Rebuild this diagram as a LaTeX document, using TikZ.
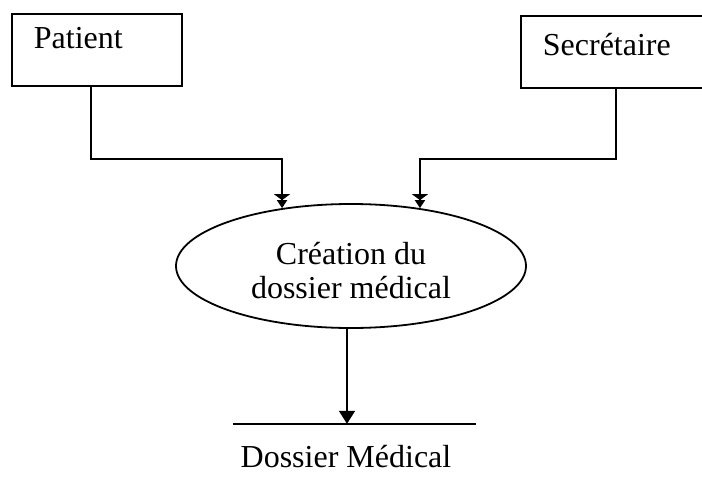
\documentclass[tikz,border=0pt]{standalone}
\usepackage{fontspec}
\setmainfont{Liberation Serif}
\usetikzlibrary{shapes.geometric,arrows.meta}

\tikzset{
  every node/.style={font=\fontsize{32}{34}\selectfont},
  lw/.style={line width=1.8pt},
  entity/.style={lw, draw, rectangle, inner xsep=22pt, inner ysep=0pt, align=left},
  process/.style={lw, draw, ellipse, minimum width=350pt, minimum height=124pt,
                  inner sep=0pt, align=center},
  inflow/.style={lw, -{Triangle[width=16pt,length=6pt] Triangle[width=10pt,length=8pt]}},
  outflow/.style={lw, -{Triangle[width=16pt,length=13pt]}}
}

\begin{document}
\begin{tikzpicture}[x=1pt, y=-1pt]
  \useasboundingbox (0,0) rectangle (702,490);
  \clip (0,0) rectangle (702,490);

  % external entities
  \node[entity, text width=126pt, text height=35pt, text depth=37pt,
        anchor=north west] (patient) at (11,13) {Patient};
  \node[entity, text width=156pt, text height=40pt, text depth=32pt,
        anchor=north west] (secr) at (520,15) {Secrétaire};

  % process
  \node[process] (proc) at (351,266) {};
  \node[align=center] (proctext) at (351,271) {Création du\\dossier médical};

  % data store
  \node[minimum width=243pt, minimum height=0pt, inner sep=0pt] (store) at (354.5,424) {};
  \draw[lw] (store.west) -- (store.east);
  \node[anchor=base] (storelabel) at (346,467) {Dossier Médical};

  % data flows
  \draw[inflow] ([xshift=-6pt]patient.south) -- ++(0,72) -| (proc.140);
  \draw[inflow] ([xshift=-5pt]secr.south) -- ++(0,70) -| (proc.40);
  \draw[outflow] ([xshift=-4pt]proc.south) -- ([xshift=-4pt]proc.south |- store.north);
\end{tikzpicture}
\end{document}
